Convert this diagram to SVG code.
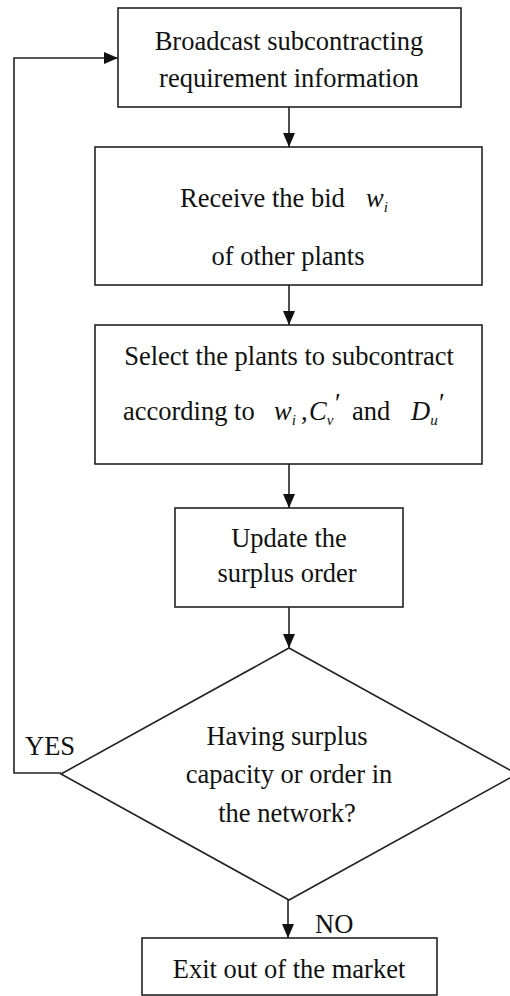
<svg xmlns="http://www.w3.org/2000/svg" width="510" height="996" viewBox="0 0 510 996">
<defs>
<marker id="arr" markerUnits="userSpaceOnUse" markerWidth="14" markerHeight="12" refX="14" refY="6" orient="auto">
<path d="M0,0 L14,6 L0,12 Z" fill="#111"/>
</marker>
<style>
.box{fill:#fff;stroke:#222;stroke-width:1.6}
.t{font-family:"Liberation Serif","Times New Roman",serif;font-size:26.5px;fill:#111}
.c{text-anchor:middle}
.i{font-style:italic}
.s{font-size:15px}
.ln{fill:none;stroke:#222;stroke-width:1.6}
</style>
</defs>
<rect width="510" height="996" fill="#fff"/>
<g id="connectors">
<line class="ln" x1="289" y1="107" x2="289" y2="147" marker-end="url(#arr)"/>
<line class="ln" x1="289" y1="285" x2="289" y2="325" marker-end="url(#arr)"/>
<line class="ln" x1="289" y1="464" x2="289" y2="508" marker-end="url(#arr)"/>
<line class="ln" x1="289" y1="607" x2="289" y2="648" marker-end="url(#arr)"/>
<line class="ln" x1="288" y1="900" x2="288" y2="938" marker-end="url(#arr)"/>
<polyline class="ln" points="61,773 14,773 14,58 118,58" marker-end="url(#arr)"/>
<text class="t" x="25" y="755">YES</text>
<text class="t" x="315" y="933">NO</text>
</g>
<g id="n1">
<rect class="box" x="118" y="8" width="343" height="99"/>
<text class="t c" x="289" y="50">Broadcast subcontracting</text>
<text class="t c" x="289" y="87">requirement information</text>
</g>
<g id="n2">
<rect class="box" x="95" y="147" width="387" height="138"/>
<text class="t" x="180" y="207">Receive the bid</text>
<text class="t i" x="366" y="207">w<tspan class="s" dy="5">i</tspan></text>
<text class="t c" x="288" y="265">of other plants</text>
</g>
<g id="n3">
<rect class="box" x="95" y="325" width="387" height="139"/>
<text class="t c" x="289" y="365">Select the plants to subcontract</text>
<text class="t" x="123" y="420">according to</text>
<text class="t i" x="274" y="420">w<tspan class="s" dy="5">i</tspan></text>
<text class="t" x="301" y="420">,</text>
<text class="t i" x="309" y="420">C<tspan class="s" dy="5">v</tspan></text>
<text class="t" x="335" y="412" font-size="18">′</text>
<text class="t" x="352" y="420">and</text>
<text class="t i" x="411" y="420">D<tspan class="s" dy="5">u</tspan></text>
<text class="t" x="439" y="412" font-size="18">′</text>
</g>
<g id="n4">
<rect class="box" x="175" y="508" width="228" height="99"/>
<text class="t c" x="289" y="547">Update the</text>
<text class="t c" x="287" y="582">surplus order</text>
</g>
<g id="n5">
<polygon class="box" points="289,648 517,774 289,900 61,774"/>
<text class="t c" x="287" y="745">Having surplus</text>
<text class="t c" x="289" y="783">capacity or order in</text>
<text class="t c" x="287" y="822">the network?</text>
</g>
<g id="n6">
<rect class="box" x="142" y="938" width="295" height="57"/>
<text class="t c" x="289" y="978">Exit out of the market</text>
</g>
</svg>
